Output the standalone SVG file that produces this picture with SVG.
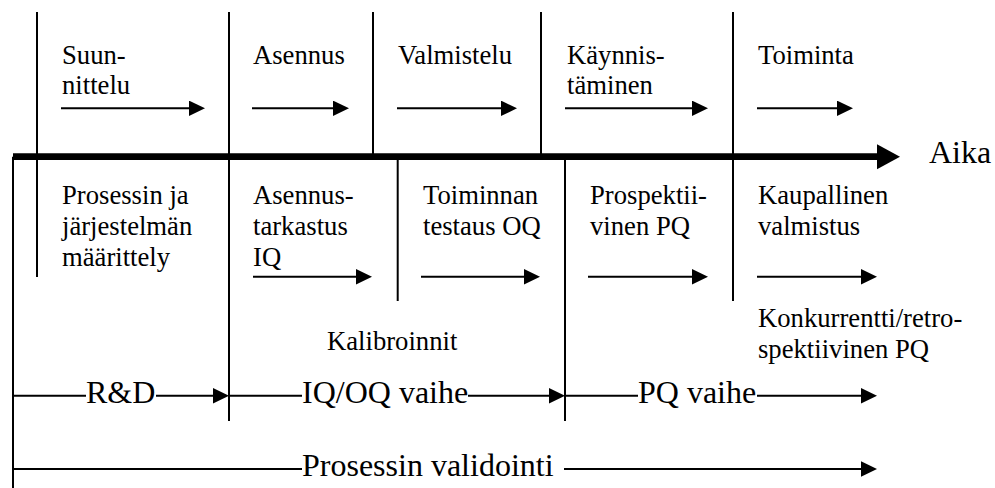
<svg xmlns="http://www.w3.org/2000/svg" width="995" height="488" viewBox="0 0 995 488">
<style>
  .s { font-size: 26.67px; }
  .b { font-size: 32px; }
  .ln { stroke: #000; stroke-width: 2; fill: none; }
  .ar { stroke: #000; stroke-width: 2; fill: none; marker-end: url(#ah); }
  .axis { stroke: #000; stroke-width: 6.7; fill: none; marker-end: url(#bigah); }
</style>
<defs>
  <marker id="ah" markerUnits="userSpaceOnUse" markerWidth="16" markerHeight="16" refX="4" refY="7.7" orient="auto">
    <path d="M0,0 L16,7.7 L0,15.4 Z" fill="#000"/>
  </marker>
  <marker id="bigah" markerUnits="userSpaceOnUse" markerWidth="24" markerHeight="26" refX="3" refY="12.5" orient="auto">
    <path d="M0,0 L23,12.5 L0,25 Z" fill="#000"/>
  </marker>
</defs>
<rect width="995" height="488" fill="#fff"/>

<g id="connectors">
  <line class="axis" x1="13" y1="156.7" x2="880" y2="156.7"/>
  <line class="ln" x1="13" y1="156.7" x2="13" y2="488"/>
  <line class="ln" x1="37" y1="12" x2="37" y2="277"/>
  <line class="ln" x1="229" y1="12" x2="229" y2="421"/>
  <line class="ln" x1="373" y1="12" x2="373" y2="156"/>
  <line class="ln" x1="397.7" y1="157" x2="397.7" y2="301"/>
  <line class="ln" x1="541" y1="12" x2="541" y2="156"/>
  <line class="ln" x1="565" y1="157" x2="565" y2="421"/>
  <line class="ln" x1="733" y1="12" x2="733" y2="301"/>
  <line class="ar" x1="61" y1="108.3" x2="193" y2="108.3"/>
  <line class="ar" x1="252" y1="108.3" x2="337" y2="108.3"/>
  <line class="ar" x1="397" y1="108.3" x2="505" y2="108.3"/>
  <line class="ar" x1="565" y1="108.3" x2="696" y2="108.3"/>
  <line class="ar" x1="757" y1="108.3" x2="841" y2="108.3"/>
  <line class="ar" x1="253" y1="276.7" x2="360" y2="276.7"/>
  <line class="ar" x1="421" y1="276.7" x2="528" y2="276.7"/>
  <line class="ar" x1="588" y1="276.7" x2="696" y2="276.7"/>
  <line class="ar" x1="757" y1="276.7" x2="865" y2="276.7"/>
  <line class="ln" x1="13" y1="395.7" x2="86" y2="395.7"/>
  <line class="ar" x1="156" y1="395.7" x2="217" y2="395.7"/>
  <line class="ln" x1="229" y1="395.7" x2="302" y2="395.7"/>
  <line class="ar" x1="468" y1="395.7" x2="553" y2="395.7"/>
  <line class="ln" x1="565" y1="395.7" x2="638" y2="395.7"/>
  <line class="ar" x1="757" y1="395.7" x2="865" y2="395.7"/>
  <line class="ln" x1="13" y1="469" x2="302" y2="469"/>
  <line class="ar" x1="564" y1="469" x2="865" y2="469"/>
</g>

<g font-family="'Liberation Serif', 'Times New Roman', 'DejaVu Serif', serif" fill="#000">
<g id="aika"><text class="b" x="929" y="163">Aika</text></g>

<g id="suunnittelu"><text class="s" x="62" y="64">Suun-</text><text class="s" x="62" y="94">nittelu</text></g>
<g id="asennus"><text class="s" x="253" y="64">Asennus</text></g>
<g id="valmistelu"><text class="s" x="398" y="64">Valmistelu</text></g>
<g id="kaynnistaminen"><text class="s" x="567" y="64">Käynnis-</text><text class="s" x="567" y="94">täminen</text></g>
<g id="toiminta"><text class="s" x="758" y="64">Toiminta</text></g>

<g id="maarittely"><text class="s" x="62" y="203.5">Prosessin ja</text><text class="s" x="62" y="234.5">järjestelmän</text><text class="s" x="62" y="265.5">määrittely</text></g>
<g id="iq"><text class="s" x="253" y="203.5">Asennus-</text><text class="s" x="253" y="234.5">tarkastus</text><text class="s" x="253" y="265.5">IQ</text></g>
<g id="oq"><text class="s" x="423" y="203.5">Toiminnan</text><text class="s" x="423" y="234.5">testaus OQ</text></g>
<g id="pq"><text class="s" x="590" y="203.5">Prospektii-</text><text class="s" x="590" y="234.5">vinen PQ</text></g>
<g id="kaupallinen"><text class="s" x="758" y="203.5">Kaupallinen</text><text class="s" x="758" y="234.5">valmistus</text></g>

<g id="kalibroinnit"><text class="s" x="327" y="350">Kalibroinnit</text></g>
<g id="konkurrentti"><text class="s" x="758" y="327">Konkurrentti/retro-</text><text class="s" x="758" y="358">spektiivinen PQ</text></g>

<g id="rd"><text class="b" x="86" y="403">R&amp;D</text></g>
<g id="iqoq"><text class="b" x="302" y="403">IQ/OQ vaihe</text></g>
<g id="pqvaihe"><text class="b" x="638" y="403">PQ vaihe</text></g>
<g id="validointi"><text class="b" x="302" y="476">Prosessin validointi</text></g>
</g>
</svg>
